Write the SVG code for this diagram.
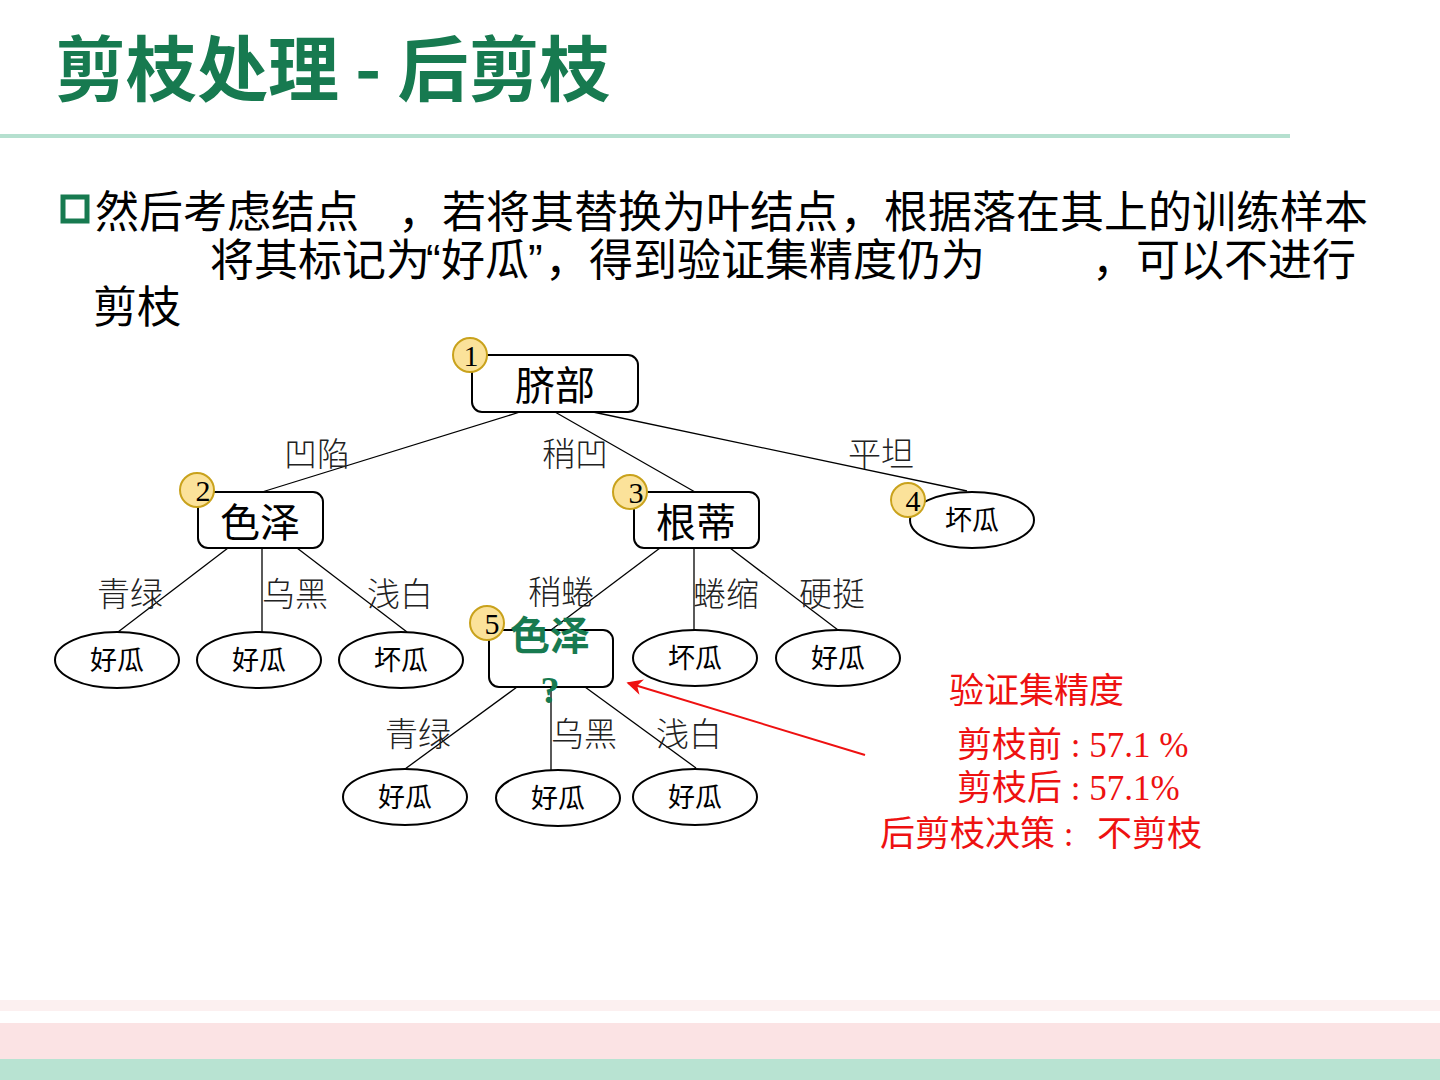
<svg xmlns="http://www.w3.org/2000/svg" width="1440" height="1080" viewBox="0 0 1440 1080">
<defs>
<style>
.title{font-family:"Noto Sans CJK SC",sans-serif;font-weight:bold;font-size:71px;fill:#177a50}
.body{font-family:"Noto Sans CJK SC",sans-serif;font-size:44px;fill:#000}
.q{font-family:"Liberation Sans",sans-serif}
.box{fill:#fff;stroke:#000;stroke-width:2}
.leaf{fill:#fff;stroke:#000;stroke-width:2}
.nt{font-family:"Noto Sans CJK SC",sans-serif;font-size:40px;fill:#000;text-anchor:middle}
.lt{font-family:"Noto Sans CJK SC",sans-serif;font-size:27px;fill:#000;text-anchor:middle}
.el{font-family:"Liberation Serif","Noto Sans CJK SC",serif;font-size:33px;fill:#222;text-anchor:middle;font-weight:300}
.badge{fill:#fbe29a;stroke:#c9a21c;stroke-width:2}
.bn{font-family:"Liberation Serif",serif;font-size:30px;fill:#000;text-anchor:middle}
.edge{stroke:#000;stroke-width:1.3;fill:none}
.red{font-family:"Liberation Serif","Noto Sans CJK SC",serif;font-size:35px;fill:#ee1111}
</style>
<marker id="ah" viewBox="0 0 10 10" refX="9" refY="5" markerWidth="16" markerHeight="16" markerUnits="userSpaceOnUse" orient="auto">
<path d="M0,0 L10,5 L0,10 L3,5 Z" fill="#ee1111"/>
</marker>
</defs>
<rect width="1440" height="1080" fill="#fff"/>
<g id="header">
<text class="title" x="55" y="95">剪枝处理 - 后剪枝</text>
<rect x="0" y="134" width="1290" height="4" fill="#b5e0cf"/>
</g>
<g id="bulletText">
<rect x="63" y="197" width="24" height="24" fill="none" stroke="#177a50" stroke-width="5"/>
<text class="body" y="228"><tspan x="95">然后考虑结点</tspan><tspan x="398">，若将其替换为叶结点</tspan><tspan x="840">，根据落在其上的训练样本</tspan></text>
<text class="body" y="276"><tspan x="210">将其标记为</tspan><tspan class="q" x="426">“</tspan><tspan x="441">好瓜</tspan><tspan class="q" x="528">”</tspan><tspan x="545">，</tspan><tspan x="589">得到验证集精度仍为</tspan><tspan x="1092">，可以不进行</tspan></text>
<text class="body" x="93" y="323">剪枝</text>
</g>
<g id="connectors">
<line class="edge" x1="520" y1="412" x2="262" y2="492"/>
<line class="edge" x1="555" y1="412" x2="695" y2="492"/>
<line class="edge" x1="593" y1="412" x2="967" y2="491"/>
<line class="edge" x1="228" y1="548" x2="118" y2="632"/>
<line class="edge" x1="262" y1="548" x2="262" y2="632"/>
<line class="edge" x1="297" y1="548" x2="407" y2="632"/>
<line class="edge" x1="660" y1="548" x2="551" y2="630"/>
<line class="edge" x1="694" y1="548" x2="694" y2="630"/>
<line class="edge" x1="730" y1="548" x2="838" y2="630"/>
<line class="edge" x1="517" y1="687" x2="405" y2="769"/>
<line class="edge" x1="551" y1="687" x2="551" y2="770"/>
<line class="edge" x1="585" y1="687" x2="696" y2="768"/>
<line x1="865" y1="755" x2="628" y2="683" stroke="#ee1111" stroke-width="2" marker-end="url(#ah)"/>
</g>
<g id="edgeLabels">
<text class="el" x="317" y="466">凹陷</text>
<text class="el" x="575" y="466">稍凹</text>
<text class="el" x="881" y="466">平坦</text>
<text class="el" x="130" y="606">青绿</text>
<text class="el" x="295" y="606">乌黑</text>
<text class="el" x="400" y="606">浅白</text>
<text class="el" x="561" y="604">稍蜷</text>
<text class="el" x="726" y="606">蜷缩</text>
<text class="el" x="832" y="606">硬挺</text>
<text class="el" x="418" y="746">青绿</text>
<text class="el" x="584" y="746">乌黑</text>
<text class="el" x="689" y="746">浅白</text>
</g>
<g id="node1">
<rect class="box" x="472" y="355" width="166" height="57" rx="10"/>
<text class="nt" x="555" y="400">脐部</text>
<circle class="badge" cx="470" cy="355" r="17"/>
<text class="bn" x="471" y="366">1</text>
</g>
<g id="node2">
<rect class="box" x="198" y="492" width="125" height="56" rx="10"/>
<text class="nt" x="260" y="537">色泽</text>
<circle class="badge" cx="197" cy="490" r="17"/>
<text class="bn" x="203" y="501">2</text>
</g>
<g id="node3">
<rect class="box" x="634" y="492" width="125" height="56" rx="10"/>
<text class="nt" x="696" y="537">根蒂</text>
<circle class="badge" cx="630" cy="492" r="17"/>
<text class="bn" x="636" y="503">3</text>
</g>
<g id="node4">
<ellipse class="leaf" cx="972" cy="520" rx="62" ry="28"/>
<text class="lt" x="972" y="530">坏瓜</text>
<circle class="badge" cx="908" cy="500" r="17"/>
<text class="bn" x="913" y="511">4</text>
</g>
<g id="node5">
<rect class="box" x="489" y="630" width="124" height="57" rx="10"/>
<text x="550" y="650" text-anchor="middle" font-family="Noto Sans CJK SC,sans-serif" font-weight="bold" font-size="40" fill="#177a50">色泽</text>
<text x="550" y="703" text-anchor="middle" font-family="Liberation Serif,serif" font-weight="bold" font-size="38" fill="#177a50">?</text>
<circle class="badge" cx="487" cy="623" r="17"/>
<text class="bn" x="492" y="634">5</text>
</g>
<g id="leaf1"><ellipse class="leaf" cx="117" cy="660" rx="62" ry="28"/><text class="lt" x="117" y="670">好瓜</text></g>
<g id="leaf2"><ellipse class="leaf" cx="259" cy="660" rx="62" ry="28"/><text class="lt" x="259" y="670">好瓜</text></g>
<g id="leaf3"><ellipse class="leaf" cx="401" cy="660" rx="62" ry="28"/><text class="lt" x="401" y="670">坏瓜</text></g>
<g id="leaf4"><ellipse class="leaf" cx="695" cy="658" rx="62" ry="28"/><text class="lt" x="695" y="668">坏瓜</text></g>
<g id="leaf5"><ellipse class="leaf" cx="838" cy="658" rx="62" ry="28"/><text class="lt" x="838" y="668">好瓜</text></g>
<g id="leaf6"><ellipse class="leaf" cx="405" cy="797" rx="62" ry="28"/><text class="lt" x="405" y="807">好瓜</text></g>
<g id="leaf7"><ellipse class="leaf" cx="558" cy="798" rx="62" ry="28"/><text class="lt" x="558" y="808">好瓜</text></g>
<g id="leaf8"><ellipse class="leaf" cx="695" cy="797" rx="62" ry="28"/><text class="lt" x="695" y="807">好瓜</text></g>
<g id="accuracy">
<text class="red" x="949" y="703">验证集精度</text>
<text class="red" x="957" y="757">剪枝前 : 57.1 %</text>
<text class="red" x="957" y="800">剪枝后 : 57.1%</text>
<text class="red" y="846"><tspan x="880">后剪枝决策 :</tspan><tspan x="1097">不剪枝</tspan></text>
</g>
<g id="footer">
<rect x="0" y="1000" width="1440" height="11" fill="#fcf0f0"/>
<rect x="0" y="1023" width="1440" height="36" fill="#fbe3e4"/>
<rect x="0" y="1059" width="1440" height="21" fill="#b8e3d2"/>
</g>
</svg>
